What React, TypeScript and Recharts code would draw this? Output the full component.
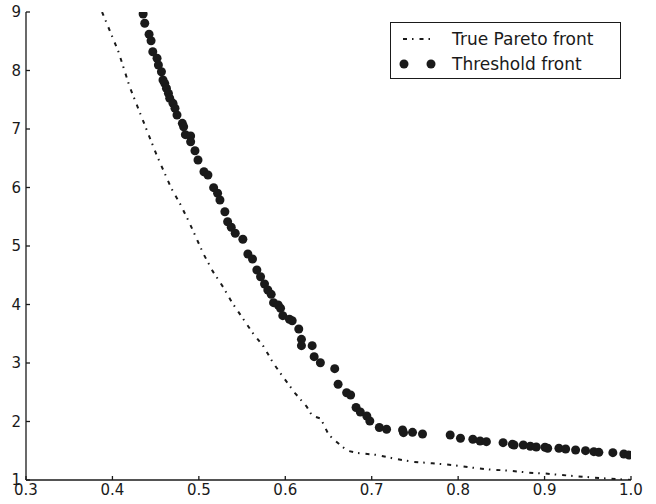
import React from 'react';
import { ComposedChart, Line, Scatter, XAxis, YAxis, Legend } from 'recharts';

// True Pareto front (dash-dot curve)
const PARETO_X = [0.388, 0.407, 0.42, 0.436, 0.451, 0.468, 0.478, 0.489, 0.5055, 0.516, 0.528, 0.539, 0.551, 0.5625, 0.575, 0.586, 0.598, 0.611, 0.625, 0.631, 0.641, 0.65, 0.657, 0.666, 0.672, 0.684, 0.705, 0.728, 0.749, 0.77, 0.793, 0.817, 0.836, 0.859, 0.882, 0.901, 0.92, 0.944, 0.967, 0.99, 1.0];
const PARETO_Y = [9.0, 8.32, 7.72, 7.12, 6.56, 5.99, 5.73, 5.4, 4.86, 4.57, 4.3, 4.02, 3.76, 3.51, 3.28, 3.0, 2.75, 2.49, 2.25, 2.1, 2.05, 1.78, 1.68, 1.57, 1.5, 1.46, 1.43, 1.36, 1.31, 1.285, 1.256, 1.21, 1.18, 1.16, 1.125, 1.11, 1.085, 1.056, 1.03, 1.01, 1.0];

// Threshold front (dots)
const THRESH_X = [0.4355, 0.4374, 0.4424, 0.4447, 0.4467, 0.4516, 0.4532, 0.4567, 0.4585, 0.4605, 0.4625, 0.4648, 0.4663, 0.4701, 0.4724, 0.4747, 0.4809, 0.4824, 0.4844, 0.4905, 0.4905, 0.4955, 0.499, 0.5059, 0.5105, 0.5171, 0.5217, 0.5244, 0.5301, 0.5333, 0.5375, 0.5421, 0.5509, 0.5567, 0.5621, 0.5671, 0.5714, 0.576, 0.5798, 0.5837, 0.5864, 0.5918, 0.5945, 0.5971, 0.6048, 0.608, 0.6156, 0.6187, 0.6187, 0.6311, 0.6334, 0.6406, 0.6572, 0.6611, 0.671, 0.6756, 0.6819, 0.6868, 0.6943, 0.6978, 0.7088, 0.7172, 0.7357, 0.7368, 0.7472, 0.7588, 0.7908, 0.8027, 0.817, 0.8254, 0.8327, 0.852, 0.8627, 0.8647, 0.8754, 0.8835, 0.8904, 0.9005, 0.9036, 0.9166, 0.9244, 0.9359, 0.9474, 0.957, 0.9628, 0.979, 0.9917, 0.9975];
const THRESH_Y = [8.966, 8.807, 8.619, 8.509, 8.321, 8.209, 8.094, 7.979, 7.838, 7.781, 7.696, 7.61, 7.525, 7.439, 7.354, 7.239, 7.097, 7.039, 6.903, 6.88, 6.783, 6.629, 6.47, 6.27, 6.214, 5.997, 5.901, 5.786, 5.586, 5.415, 5.32, 5.217, 5.115, 4.863, 4.778, 4.59, 4.475, 4.35, 4.248, 4.174, 4.031, 3.991, 3.935, 3.809, 3.747, 3.723, 3.581, 3.405, 3.296, 3.296, 3.108, 3.005, 2.903, 2.636, 2.492, 2.453, 2.239, 2.162, 2.094, 2.009, 1.897, 1.867, 1.855, 1.809, 1.815, 1.786, 1.769, 1.713, 1.696, 1.667, 1.655, 1.638, 1.61, 1.598, 1.598, 1.576, 1.564, 1.559, 1.542, 1.542, 1.53, 1.513, 1.501, 1.484, 1.473, 1.467, 1.444, 1.427];

const X_TICKS = [0.3, 0.4, 0.5, 0.6, 0.7, 0.8, 0.9, 1.0];
const Y_TICKS = [1, 2, 3, 4, 5, 6, 7, 8, 9];

const pareto = PARETO_X.map((x, i) => ({ x, y: PARETO_Y[i] }));
const threshold = THRESH_X.map((x, i) => ({ x, y: THRESH_Y[i] }));

const FONT = '"DejaVu Sans", sans-serif';
const INK = '#1a1a1a';
const DASH = '4 5 1.5 6';

const axisStroke = { stroke: INK, strokeWidth: 1.3 };
const tickFont = { fill: INK, fontSize: 15, fontFamily: FONT };

const renderLegend = () => (
  <div
    style={{
      width: 229,
      height: 55,
      border: `1px solid ${INK}`,
      background: '#fff',
      fontFamily: FONT,
      fontSize: 17,
      color: INK,
      position: 'relative',
    }}
  >
    <svg width={60} height={55} style={{ position: 'absolute', left: 0, top: 0 }}>
      <line x1={12} y1={16} x2={42} y2={16} stroke={INK} strokeWidth={2} strokeDasharray={DASH} />
      <circle cx={13} cy={41} r={4.5} fill={INK} />
      <circle cx={40} cy={41} r={4.5} fill={INK} />
    </svg>
    <div style={{ position: 'absolute', left: 61, top: 5, lineHeight: '22px' }}>True Pareto front</div>
    <div style={{ position: 'absolute', left: 61, top: 30, lineHeight: '22px' }}>Threshold front</div>
  </div>
);

export default function App() {
  return (
    <div style={{ position: 'absolute', left: 0, top: 0, background: '#fff' }}>
      <ComposedChart width={656} height={504} margin={{ top: 12, right: 25, bottom: 0, left: 0 }}>
        <XAxis
          xAxisId="b"
          type="number"
          dataKey="x"
          domain={[0.3, 1.0]}
          ticks={X_TICKS}
          tickFormatter={(v: number) => v.toFixed(1)}
          height={24}
          tickSize={-4}
          tickMargin={8}
          axisLine={axisStroke}
          tickLine={axisStroke}
          tick={tickFont}
          allowDataOverflow
        />
        <XAxis
          xAxisId="t"
          orientation="top"
          type="number"
          dataKey="x"
          domain={[0.3, 1.0]}
          ticks={X_TICKS}
          height={0}
          tickSize={-4}
          axisLine={axisStroke}
          tickLine={axisStroke}
          tick={false}
          allowDataOverflow
        />
        <YAxis
          yAxisId="l"
          type="number"
          dataKey="y"
          domain={[1, 9]}
          ticks={Y_TICKS}
          width={26}
          tickSize={-4}
          tickMargin={9}
          axisLine={axisStroke}
          tickLine={axisStroke}
          tick={tickFont}
          allowDataOverflow
        />
        <YAxis
          yAxisId="r"
          orientation="right"
          type="number"
          dataKey="y"
          domain={[1, 9]}
          ticks={Y_TICKS}
          width={0}
          tickSize={-4}
          axisLine={axisStroke}
          tickLine={axisStroke}
          tick={false}
          allowDataOverflow
        />
        <Legend
          layout="vertical"
          align="center"
          verticalAlign="middle"
          content={renderLegend}
          wrapperStyle={{ left: 390, top: 22, width: 231 }}
        />
        <Line
          xAxisId="b"
          yAxisId="l"
          data={pareto}
          dataKey="y"
          type="linear"
          stroke={INK}
          strokeWidth={2}
          strokeDasharray={DASH}
          dot={false}
          activeDot={false}
          isAnimationActive={false}
        />
        <Scatter
          xAxisId="b"
          yAxisId="l"
          data={threshold}
          dataKey="y"
          isAnimationActive={false}
          shape={(props: any) => <circle cx={props.cx} cy={props.cy} r={4.5} fill={INK} />}
        />
      </ComposedChart>
    </div>
  );
}
